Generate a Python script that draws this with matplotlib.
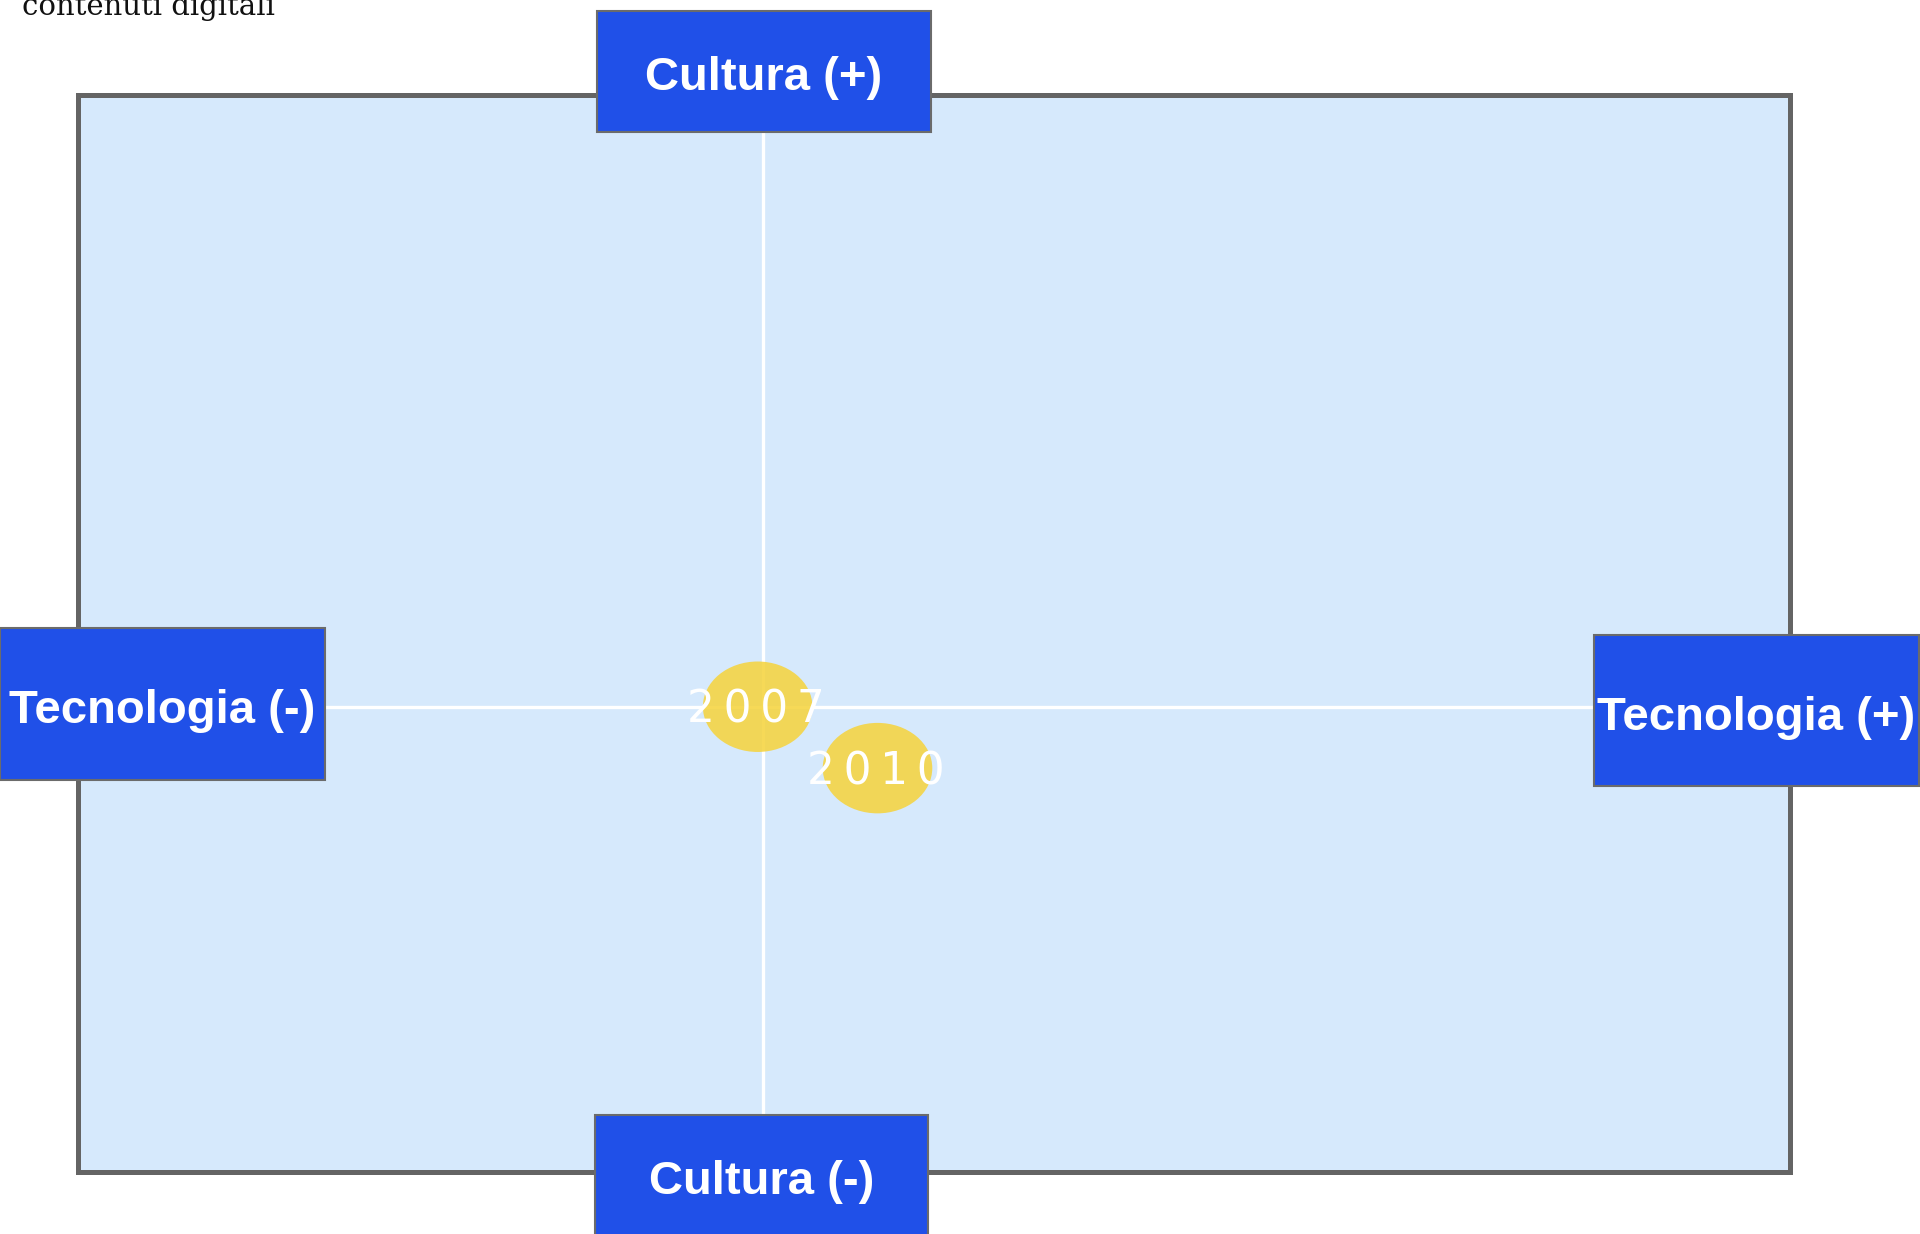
import matplotlib
matplotlib.use("Agg")
import matplotlib.pyplot as plt
from matplotlib.patches import Rectangle, Ellipse

# position of each year on the culture / technology map
years = ["2007", "2010"]
tecnologia = [-0.03, 0.67]
cultura = [0.0, -0.57]

# labels of the four ends of the axes
label_top = "Cultura (+)"
label_bottom = "Cultura (-)"
label_left = "Tecnologia (-)"
label_right = "Tecnologia (+)"
subtitle = "contenuti digitali"

W, H = 1920, 1234
BLUE = "#2050E8"
PANEL = "#D6E9FC"
GREY = "#646464"

def fx(px):
    return px / W

def fy(py):
    return 1 - py / H

fig = plt.figure(figsize=(W / 100, H / 100), dpi=100)
fig.patch.set_facecolor("white")

# the map panel, crosshair at (0, 0)
ax = fig.add_axes([fx(78), fy(1172), (1790 - 78) / W, (1172 - 95) / H])
ax.set_facecolor(PANEL)
ax.set_xlim(-4, 6)
ax.set_ylim(-4.32, 5.68)
ax.set_xticks([])
ax.set_yticks([])
for s in ax.spines.values():
    s.set_color(GREY)
    s.set_linewidth(3.6)

ax.axhline(0, color="white", lw=2.4, zorder=1)
ax.axvline(0, color="white", lw=2.4, zorder=1)

for yr, x, y in zip(years, tecnologia, cultura):
    ax.add_patch(Ellipse((x, y), 0.64, 0.84, facecolor="#F5D440", edgecolor="none",
                         alpha=0.88, zorder=2))
    ax.annotate("\u2009".join(yr), (x, y), xytext=(-1, -2.5), textcoords="offset points",
                color="white", fontsize=31.5, family="DejaVu Sans",
                ha="center", va="center", zorder=3)

# blue boxes at the end of each axis
def box(x0, y0, x1, y1, text):
    fig.add_artist(Rectangle((fx(x0), fy(y1)), (x1 - x0) / W, (y1 - y0) / H,
                             transform=fig.transFigure, facecolor=BLUE,
                             edgecolor="#6B6B6B", lw=1.5, zorder=5))
    fig.text(fx((x0 + x1) / 2), fy((y0 + y1) / 2 + 7), text, color="white",
             fontsize=34, fontweight="bold", family="Liberation Sans",
             ha="center", va="center", zorder=6)

box(597, 11, 931, 132, label_top)
box(595, 1115, 928, 1236, label_bottom)
box(0, 628, 325, 780, label_left)
box(1594, 635, 1919, 786, label_right)

fig.text(fx(22), fy(15), subtitle, color="#111111", fontsize=21, family="DejaVu Serif",
         ha="left", va="baseline")

plt.savefig("out.png", dpi=100)
